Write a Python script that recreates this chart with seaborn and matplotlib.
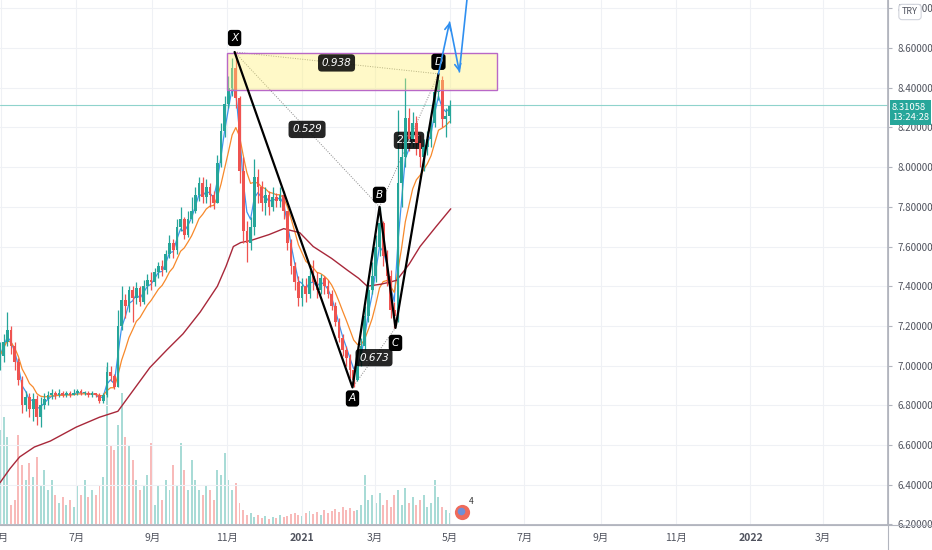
import numpy as np
import pandas as pd
import seaborn as sns
import matplotlib.pyplot as plt
import matplotlib.dates as mdates
from matplotlib.patches import Rectangle
from matplotlib.lines import Line2D

sns.set_theme(style="white")
plt.rcParams['font.family'] = ['Noto Sans CJK SC', 'DejaVu Sans']

# candles, one every 3 days
dates = pd.date_range('2020-04-30', periods=123, freq='3D')
first_open = 7.00
closes = [7.05, 7.12, 7.18, 7.10, 7.02, 6.93, 6.80, 6.84, 6.78, 6.83,
          6.74, 6.80, 6.83, 6.85, 6.86, 6.85, 6.86, 6.85, 6.86, 6.85,
          6.86, 6.87, 6.86, 6.86, 6.85, 6.86, 6.85, 6.82, 6.85, 6.97,
          6.95, 6.89, 7.20, 7.33, 7.30, 7.38, 7.34, 7.39, 7.32, 7.40,
          7.43, 7.42, 7.47, 7.50, 7.48, 7.56, 7.62, 7.58, 7.70, 7.74,
          7.66, 7.74, 7.78, 7.86, 7.92, 7.85, 7.90, 7.86, 7.82, 8.02,
          8.18, 8.32, 8.40, 8.50, 8.35, 7.98, 7.68, 7.62, 7.70, 7.95,
          7.90, 7.82, 7.86, 7.80, 7.85, 7.83, 7.86, 7.78, 7.62, 7.50,
          7.42, 7.34, 7.40, 7.36, 7.45, 7.42, 7.38, 7.44, 7.40, 7.36,
          7.30, 7.22, 7.14, 7.08, 7.04, 6.98, 6.93, 7.02, 7.10, 7.25,
          7.38, 7.45, 7.60, 7.72, 7.55, 7.45, 7.28, 7.25, 7.92, 8.05,
          8.25, 8.14, 8.22, 8.12, 8.05, 8.10, 8.14, 8.22, 8.38, 8.44,
          8.24, 8.26, 8.31]
highs = [7.12, 7.16, 7.27, 7.20, 7.12, 7.04, 6.95, 6.87, 6.86, 6.86,
         6.85, 6.84, 6.86, 6.87, 6.88, 6.87, 6.88, 6.87, 6.87, 6.87,
         6.88, 6.88, 6.88, 6.87, 6.87, 6.87, 6.86, 6.86, 6.86, 7.02,
         7.00, 6.96, 7.28, 7.40, 7.36, 7.40, 7.40, 7.42, 7.40, 7.43,
         7.46, 7.47, 7.49, 7.52, 7.53, 7.58, 7.66, 7.64, 7.74, 7.80,
         7.75, 7.78, 7.85, 7.90, 7.95, 7.95, 7.94, 7.92, 7.88, 8.06,
         8.22, 8.36, 8.46, 8.55, 8.58, 8.36, 8.05, 7.73, 7.75, 8.04,
         7.99, 7.93, 7.90, 7.88, 7.90, 7.87, 7.90, 7.88, 7.78, 7.64,
         7.52, 7.45, 7.44, 7.44, 7.48, 7.53, 7.47, 7.46, 7.45, 7.43,
         7.38, 7.32, 7.24, 7.16, 7.10, 7.06, 7.00, 7.05, 7.14, 7.30,
         7.42, 7.52, 7.66, 7.80, 7.73, 7.58, 7.48, 7.32, 8.29, 8.12,
         8.45, 8.30, 8.28, 8.26, 8.16, 8.14, 8.18, 8.25, 8.40, 8.48,
         8.46, 8.30, 8.34]
lows = [6.98, 7.02, 7.10, 7.06, 6.98, 6.90, 6.76, 6.77, 6.74, 6.72,
        6.70, 6.69, 6.78, 6.80, 6.83, 6.83, 6.84, 6.84, 6.84, 6.84,
        6.85, 6.85, 6.85, 6.85, 6.84, 6.84, 6.84, 6.81, 6.81, 6.84,
        6.92, 6.88, 6.89, 7.18, 7.24, 7.27, 7.22, 7.31, 7.30, 7.31,
        7.36, 7.38, 7.40, 7.44, 7.45, 7.47, 7.54, 7.54, 7.56, 7.68,
        7.64, 7.65, 7.72, 7.77, 7.83, 7.82, 7.82, 7.80, 7.79, 7.82,
        8.00, 8.15, 8.30, 8.36, 8.30, 7.92, 7.62, 7.52, 7.58, 7.66,
        7.82, 7.78, 7.76, 7.76, 7.78, 7.80, 7.80, 7.74, 7.58, 7.46,
        7.38, 7.30, 7.30, 7.32, 7.34, 7.38, 7.34, 7.36, 7.36, 7.34,
        7.28, 7.20, 7.12, 7.05, 7.00, 6.94, 6.89, 6.92, 7.00, 7.08,
        7.22, 7.36, 7.42, 7.55, 7.50, 7.40, 7.24, 7.19, 7.22, 7.80,
        8.00, 8.08, 8.10, 8.06, 8.00, 7.98, 8.06, 8.10, 8.20, 8.34,
        8.20, 8.15, 8.22]
volumes = [95, 108, 88, 20, 25, 90, 60, 45, 62, 48,
           68, 40, 55, 35, 45, 30, 22, 28, 20, 25,
           18, 40, 30, 45, 28, 35, 30, 40, 48, 158,
           80, 75, 100, 132, 88, 80, 65, 45, 35, 40,
           50, 82, 20, 40, 25, 45, 35, 60, 40, 82,
           55, 35, 65, 45, 35, 30, 40, 35, 25, 55,
           50, 72, 45, 35, 42, 22, 15, 10, 12, 8,
           10, 7, 9, 6, 8, 7, 10, 8, 9, 11,
           12, 10, 9, 12, 14, 11, 13, 10, 15, 12,
           14, 16, 13, 18, 15, 17, 14, 15, 20, 50,
           25, 30, 22, 32, 20, 25, 18, 30, 35, 20,
           37, 22, 28, 20, 25, 30, 18, 22, 45, 28,
           18, 15, 12]

# long moving average
ma_slow_dates = pd.to_datetime(['2020-04-30', '2020-05-08', '2020-05-16', '2020-05-28',
                                '2020-06-10', '2020-07-01', '2020-07-20', '2020-08-04',
                                '2020-08-17', '2020-08-30', '2020-09-13', '2020-09-26',
                                '2020-10-10', '2020-10-24', '2020-10-31', '2020-11-06',
                                '2020-11-12', '2020-11-20', '2020-12-05', '2020-12-17',
                                '2020-12-30', '2021-01-10', '2021-01-25', '2021-02-07',
                                '2021-02-16', '2021-02-23', '2021-03-06', '2021-03-13',
                                '2021-03-19', '2021-03-29', '2021-04-07', '2021-04-20',
                                '2021-05-02'])
ma_slow = [6.41, 6.48, 6.54, 6.59, 6.62, 6.69, 6.74, 6.77, 6.88, 6.99,
           7.08, 7.16, 7.27, 7.40, 7.50, 7.60, 7.62, 7.63, 7.66, 7.69,
           7.67, 7.60, 7.54, 7.48, 7.44, 7.40, 7.41, 7.42, 7.43, 7.51,
           7.60, 7.70, 7.79]

# harmonic pattern
pattern_names = ['X', 'A', 'B', 'C', 'D']
pattern_dates = pd.to_datetime(['2020-11-07', '2021-02-11', '2021-03-05', '2021-03-18', '2021-04-22'])
pattern_prices = [8.58, 6.89, 7.80, 7.19, 8.47]
label_offsets = [14, -11, 12, -15, 12]
ratio_pairs = [(0, 4), (0, 2), (1, 3), (2, 4)]
ratio_labels = ['0.938', '0.529', '0.673', '2.15']

zone_start, zone_end = pd.Timestamp('2020-11-01'), pd.Timestamp('2021-06-09')
zone_low, zone_high = 8.388, 8.575

proj_dates = pd.to_datetime(['2021-04-22', '2021-05-01', '2021-05-09', '2021-05-17'])
proj_prices = [8.47, 8.73, 8.48, 8.95]

last_price = 8.31058
last_time = '13:24:28'

month_ticks = pd.to_datetime(['2020-05-01', '2020-07-01', '2020-09-01', '2020-11-01',
                              '2021-01-01', '2021-03-01', '2021-05-01', '2021-07-01',
                              '2021-09-01', '2021-11-01', '2022-01-01', '2022-03-01'])
month_labels = ['5月', '7月', '9月', '11月', '2021', '3月', '5月', '7月', '9月', '11月', '2022', '3月']

UP, DOWN = '#26a69a', '#ef5350'
TXT = '#50535e'
AXIS = '#b2b5be'
LABEL_FONT = ['DejaVu Sans']

df = pd.DataFrame({'date': dates, 'close': closes, 'high': highs,
                   'low': lows, 'volume': volumes})
df['open'] = df['close'].shift(1).fillna(first_open)
df['color'] = np.where(df['close'] >= df['open'], UP, DOWN)
df['ema_fast'] = df['close'].ewm(span=3).mean()
df['ema_mid'] = df['close'].ewm(span=9).mean()

fig = plt.figure(figsize=(9.32, 5.5), dpi=100)
ax = fig.add_axes([0, 25 / 550, 888 / 932, 525 / 550])
ax2 = ax.twinx()

# volume
ax2.bar(df['date'], df['volume'], width=1.6, color=df['color'], alpha=0.4, linewidth=0)
ax2.set_ylim(0, 525)
ax2.set_yticks([])
for s in ax2.spines.values():
    s.set_visible(False)
ax.set_zorder(ax2.get_zorder() + 1)
ax.patch.set_visible(False)

# moving averages
sns.lineplot(x=df['date'], y=df['ema_fast'], ax=ax, color='#3d95f0', linewidth=0.9, zorder=3)
sns.lineplot(x=df['date'], y=df['ema_mid'], ax=ax, color='#f7892b', linewidth=0.9, zorder=3)
sns.lineplot(x=ma_slow_dates, y=ma_slow, ax=ax, color='#a8283a', linewidth=1.0, zorder=3)

# candles
ax.vlines(df['date'], df['low'], df['high'], colors=df['color'], linewidth=0.9, zorder=4)
body = (df['close'] - df['open']).abs().clip(lower=0.008)
ax.bar(df['date'], body, bottom=df[['open', 'close']].min(axis=1), width=2.2,
       color=df['color'], linewidth=0, zorder=5)

# last price line
ax.axhline(last_price, color='#8fd3cc', linewidth=0.8, zorder=2)

# PRZ zone
x0, x1 = mdates.date2num(zone_start), mdates.date2num(zone_end)
ax.add_patch(Rectangle((x0, zone_low), x1 - x0, zone_high - zone_low,
                       facecolor='#fff176', alpha=0.4, edgecolor='none', zorder=6))
ax.add_patch(Rectangle((x0, zone_low), x1 - x0, zone_high - zone_low,
                       fill=False, edgecolor='#b968c7', linewidth=1.0, zorder=6))

# pattern legs
ax.plot(pattern_dates, pattern_prices, color='black', linewidth=1.6, zorder=7)
for (i, j), lab in zip(ratio_pairs, ratio_labels):
    ax.plot([pattern_dates[i], pattern_dates[j]], [pattern_prices[i], pattern_prices[j]],
            color='#888888', linewidth=0.7, linestyle=(0, (1, 1.5)), zorder=3)
    mid_d = pattern_dates[i] + (pattern_dates[j] - pattern_dates[i]) / 2
    mid_p = (pattern_prices[i] + pattern_prices[j]) / 2
    ax.text(mid_d, mid_p, lab, ha='center', va='center', color='white', fontsize=7.5,
            fontstyle='italic', family=LABEL_FONT, zorder=4 if lab == '2.15' else 8,
            bbox=dict(boxstyle='round,pad=0.35', fc='black', ec='none', alpha=0.85))

for name, d, p, off in zip(pattern_names, pattern_dates, pattern_prices, label_offsets):
    ax.annotate(name, xy=(d, p), xytext=(0, off), textcoords='offset pixels',
                ha='center', va='center', color='white', fontsize=7.5, fontstyle='italic',
                family=LABEL_FONT, zorder=9,
                bbox=dict(boxstyle='round,pad=0.3', fc='black', ec='none'))

# projection arrows
for k in range(2):
    ax.annotate('', xy=(proj_dates[k + 1], proj_prices[k + 1]), xytext=(proj_dates[k], proj_prices[k]),
                arrowprops=dict(arrowstyle='->', color='#2f8ff0', lw=1.2, mutation_scale=11,
                                shrinkA=0, shrinkB=0), zorder=9)
ax.plot(proj_dates[2:], proj_prices[2:], color='#2f8ff0', linewidth=1.2, zorder=9)

# flag marker near the last bar
ax.scatter([pd.Timestamp('2021-05-11')], [6.262], s=120, color='#ef6b5b', zorder=9, linewidth=0)
ax.scatter([pd.Timestamp('2021-05-10')], [6.27], s=30, color='#6f8fd8', zorder=10, linewidth=0)
ax.annotate('4', xy=(pd.Timestamp('2021-05-11'), 6.262), xytext=(7, 8), textcoords='offset pixels',
            fontsize=6, color='#333333', zorder=10)

# axes
ax.set_xlim(mdates.date2num(pd.Timestamp('2020-04-30')), mdates.date2num(pd.Timestamp('2022-04-23')))
ax.set_ylim(6.197, 8.842)
ax.set_yticks(np.arange(6.2, 8.81, 0.2))
ax.yaxis.set_major_formatter(plt.FuncFormatter(lambda v, _: f'{v:.5f}'))
ax.yaxis.tick_right()
ax.set_xticks(month_ticks)
ax.set_xticklabels(month_labels)
ax.set_xlabel('')
ax.set_ylabel('')
ax.tick_params(axis='y', length=3, width=0.8, color=AXIS, labelsize=7, labelcolor=TXT, pad=4, direction='out')
ax.tick_params(axis='x', length=3, width=0.8, color=AXIS, labelsize=7.5, labelcolor=TXT, pad=3, direction='out')
for t in ax.get_xticklabels():
    if t.get_text().startswith('20'):
        t.set_fontweight('bold')
ax.grid(True, color='#eff1f5', linewidth=0.8)
for side in ['top', 'left']:
    ax.spines[side].set_visible(False)
ax.spines['right'].set_color(AXIS)
ax.spines['bottom'].set_color(AXIS)

# axis lines running past the corner
fig.add_artist(Line2D([888 / 932, 888 / 932], [0, 1], color=AXIS, linewidth=0.8))
fig.add_artist(Line2D([0, 1], [25 / 550, 25 / 550], color=AXIS, linewidth=0.8))

# last price badge
ax.annotate(f'{last_price:.5f}\n{last_time}', xy=(1.0, last_price), xycoords=('axes fraction', 'data'),
            xytext=(4, -7), textcoords='offset pixels', ha='left', va='center', color='white',
            fontsize=6.8, linespacing=1.25, annotation_clip=False, zorder=10,
            bbox=dict(boxstyle='square,pad=0.25', fc=UP, ec='none'))

fig.text(910 / 932, 1 - 12 / 550, 'TRY', ha='center', va='center', fontsize=6.5, color=TXT, zorder=10,
         bbox=dict(boxstyle='round,pad=0.35', fc='white', ec='#d1d4dc', lw=0.8))

fig.savefig('out.png', dpi=100)
